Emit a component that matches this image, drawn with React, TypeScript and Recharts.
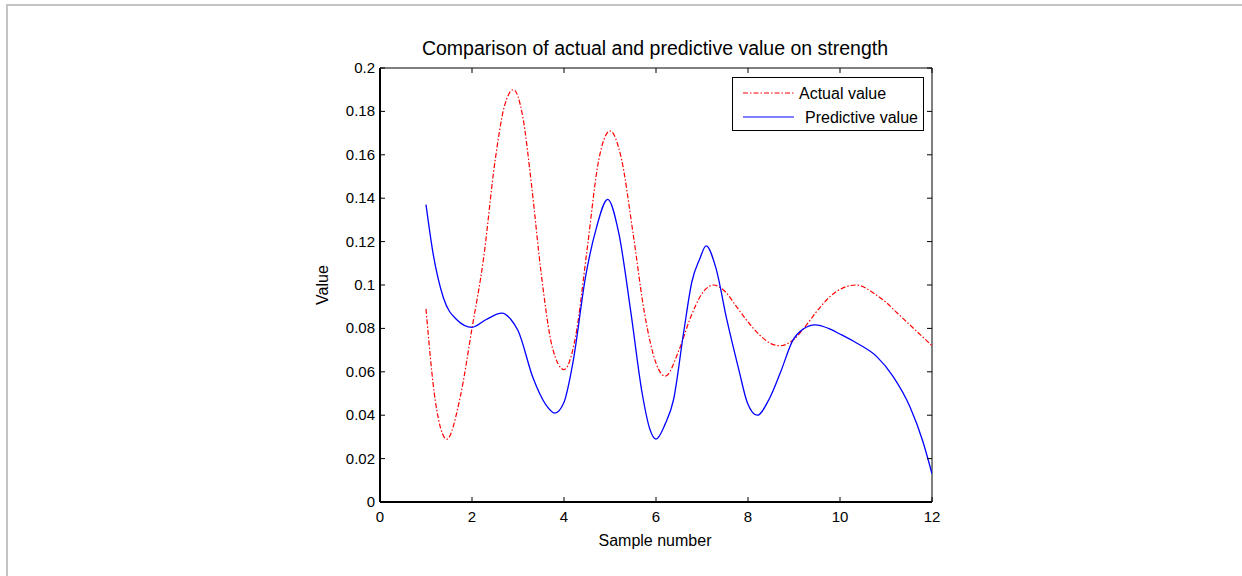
import { LineChart, Line, XAxis, YAxis, ReferenceArea } from 'recharts'

// values
const actualX = [1.0, 1.2, 1.45, 1.75, 2.0, 2.25, 2.5, 2.7, 2.9, 3.1, 3.3, 3.5, 3.75, 4.0, 4.25, 4.5, 4.75, 5.0, 5.25, 5.5, 5.75, 6.0, 6.2, 6.5, 6.75, 7.0, 7.25, 7.5, 7.75, 8.0, 8.25, 8.5, 8.7, 9.0, 9.25, 9.5, 9.75, 10.0, 10.35, 10.75, 11.0, 11.25, 11.5, 11.75, 12.0]
const actualY = [0.089, 0.047, 0.029, 0.049, 0.08, 0.112, 0.157, 0.182, 0.19, 0.178, 0.145, 0.106, 0.071, 0.061, 0.076, 0.116, 0.157, 0.171, 0.158, 0.124, 0.087, 0.064, 0.058, 0.07, 0.085, 0.096, 0.1, 0.097, 0.09, 0.083, 0.077, 0.073, 0.072, 0.075, 0.081, 0.088, 0.094, 0.098, 0.1, 0.096, 0.092, 0.087, 0.082, 0.077, 0.072]

const predictX = [1.0, 1.15, 1.38, 1.67, 2.0, 2.3, 2.65, 2.85, 3.0, 3.33, 3.6, 3.8, 4.0, 4.2, 4.47, 4.7, 4.95, 5.19, 5.45, 5.7, 5.86, 6.0, 6.2, 6.38, 6.6, 6.78, 6.95, 7.09, 7.3, 7.54, 7.8, 7.99, 8.2, 8.45, 8.7, 8.98, 9.2, 9.46, 9.75, 10.0, 10.36, 10.8, 11.16, 11.52, 11.8, 12.0]
const predictY = [0.137, 0.115, 0.094, 0.084, 0.0805, 0.084, 0.087, 0.084, 0.079, 0.057, 0.045, 0.041, 0.046, 0.065, 0.104, 0.126, 0.1395, 0.124, 0.088, 0.05, 0.034, 0.029, 0.036, 0.047, 0.078, 0.1015, 0.112, 0.118, 0.108, 0.084, 0.061, 0.0455, 0.04, 0.047, 0.0594, 0.0747, 0.0797, 0.0816, 0.08, 0.0774, 0.0733, 0.067, 0.0577, 0.0439, 0.028, 0.013]

const xTicks = [0, 2, 4, 6, 8, 10, 12]
const yTicks = [0, 0.02, 0.04, 0.06, 0.08, 0.1, 0.12, 0.14, 0.16, 0.18, 0.2]

const actualData = actualX.map((x, i) => ({ x, y: actualY[i] }))
const predictData = predictX.map((x, i) => ({ x, y: predictY[i] }))

const FONT = '"Liberation Sans", Arial, sans-serif'
const W = 1242
const H = 576
const PLOT_TOP = 68
const PLOT_LEFT = 380
const PLOT_RIGHT = 932
const PLOT_BOTTOM = 502
const TICK = 5
const DASH_DOT = '5 2 1.5 2'

// eslint-disable-next-line @typescript-eslint/no-explicit-any
function XTick({ x, y, payload }: any) {
  return (
    <g>
      <line x1={x} x2={x} y1={y} y2={y - TICK} stroke="#000" />
      <line x1={x} x2={x} y1={PLOT_TOP} y2={PLOT_TOP + TICK} stroke="#000" />
      <text x={x} y={y + 20} textAnchor="middle" fontSize={15} fontFamily={FONT} fill="#000">
        {payload.value}
      </text>
    </g>
  )
}

// eslint-disable-next-line @typescript-eslint/no-explicit-any
function YTick({ x, y, payload }: any) {
  return (
    <g>
      <line x1={x} x2={x + TICK} y1={y} y2={y} stroke="#000" />
      <line x1={PLOT_RIGHT} x2={PLOT_RIGHT - TICK} y1={y} y2={y} stroke="#000" />
      <text x={x - 5} y={y + 5} textAnchor="end" fontSize={15} fontFamily={FONT} fill="#000">
        {payload.value}
      </text>
    </g>
  )
}

function ChartLegend() {
  return (
    <div
      style={{
        position: 'absolute',
        left: 732,
        top: 77,
        width: 190,
        height: 52,
        border: '1px solid #000',
        background: '#fff',
        fontFamily: FONT,
        fontSize: 16,
        color: '#000',
      }}
    >
      <svg width={190} height={52} style={{ position: 'absolute', left: 0, top: 0 }}>
        <line x1={10} x2={61} y1={15} y2={15} stroke="#ff0000" strokeWidth={1.2} strokeDasharray={DASH_DOT} />
        <line x1={10} x2={61} y1={39} y2={39} stroke="#0000ff" strokeWidth={1.2} />
        <text x={66} y={21} fontSize={16} fontFamily={FONT}>Actual value</text>
        <text x={72} y={45} fontSize={16} fontFamily={FONT}>Predictive value</text>
      </svg>
    </div>
  )
}

export default function App() {
  return (
    <div style={{ position: 'absolute', left: 0, top: 0, width: W, height: H, background: '#fff', overflow: 'hidden' }}>
      <div
        style={{
          position: 'absolute',
          left: 6,
          top: 4,
          width: W + 40,
          height: H + 40,
          borderTop: '2px solid #c4c4c4',
          borderLeft: '2px solid #c4c4c4',
        }}
      />
      <LineChart
        width={W}
        height={H}
        style={{ position: 'absolute', left: 0, top: 0 }}
        margin={{ top: PLOT_TOP, left: PLOT_LEFT - 40, right: W - PLOT_RIGHT, bottom: H - PLOT_BOTTOM - 30 }}
      >
        <XAxis
          type="number"
          dataKey="x"
          domain={[0, 12]}
          ticks={xTicks}
          interval={0}
          allowDataOverflow
          height={30}
          tickSize={0}
          tickMargin={0}
          tickLine={false}
          tick={<XTick />}
          axisLine={{ stroke: '#000', strokeWidth: 2 }}
        />
        <YAxis
          type="number"
          dataKey="y"
          domain={[0, 0.2]}
          ticks={yTicks}
          interval={0}
          allowDataOverflow
          width={40}
          tickSize={0}
          tickMargin={0}
          tickLine={false}
          tick={<YTick />}
          axisLine={{ stroke: '#000', strokeWidth: 2 }}
        />
        <ReferenceArea x1={0} x2={12} y1={0} y2={0.2} fill="none" stroke="#000" strokeWidth={1} ifOverflow="visible" />
        <Line
          data={actualData}
          dataKey="y"
          type="monotone"
          stroke="#ff0000"
          strokeWidth={1.2}
          strokeDasharray={DASH_DOT}
          dot={false}
          isAnimationActive={false}
        />
        <Line
          data={predictData}
          dataKey="y"
          type="monotone"
          stroke="#0000ff"
          strokeWidth={1.3}
          dot={false}
          isAnimationActive={false}
        />
        <text x={655} y={55} textAnchor="middle" fontSize={19.5} fontFamily={FONT} fill="#000">
          Comparison of actual and predictive value on strength
        </text>
        <text x={655} y={546} textAnchor="middle" fontSize={16} fontFamily={FONT} fill="#000">
          Sample number
        </text>
        <text
          x={328}
          y={285}
          textAnchor="middle"
          fontSize={16}
          fontFamily={FONT}
          fill="#000"
          transform="rotate(-90 328 285)"
        >
          Value
        </text>
      </LineChart>
      <ChartLegend />
    </div>
  )
}
